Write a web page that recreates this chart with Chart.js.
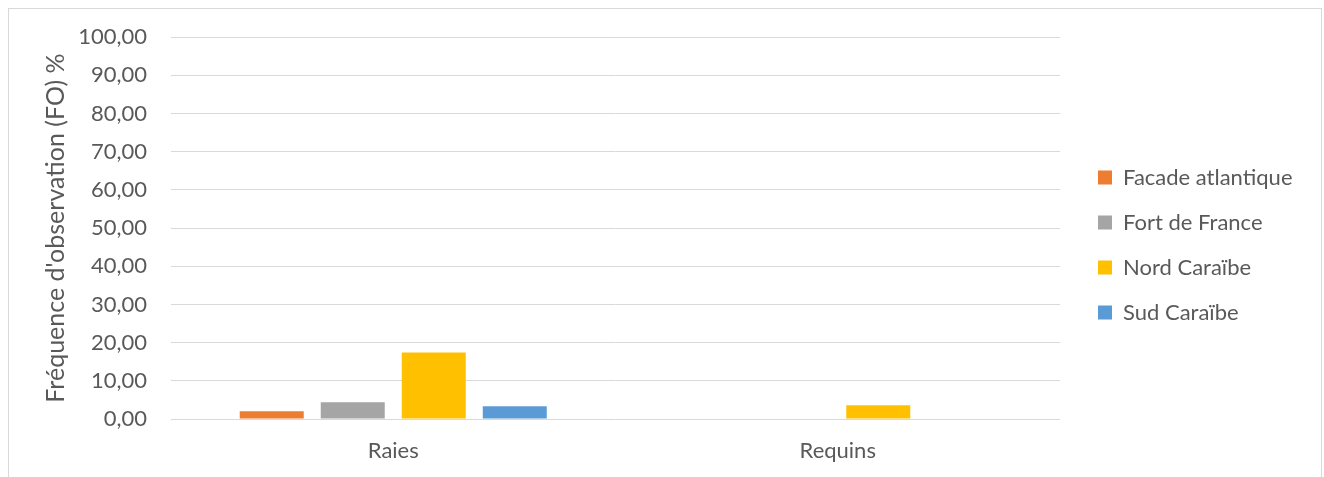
<!DOCTYPE html>
<html>
<head>
<meta charset="utf-8">
<script src="https://cdn.jsdelivr.net/npm/chart.js@4.4.1/dist/chart.umd.min.js"></script>
<style>
html,body{margin:0;padding:0;background:#fff;overflow:hidden;}
#frame{position:absolute;left:8px;top:8px;width:1314px;height:520px;border:1px solid #d9d9d9;box-sizing:border-box;}
#c{position:absolute;left:0;top:0;}
</style>
</head>
<body>
<div id="frame"></div>
<canvas id="c" width="1324" height="477"></canvas>
<script>
// categories, series, ticks
const categories=['Raies','Requins'];
const seriesNames=['Facade atlantique','Fort de France','Nord Caraïbe','Sud Caraïbe'];
const facade=[2.0,0];
const fortDeFrance=[4.4,0];
const nordCaraibe=[17.4,3.6];
const sudCaraibe=[3.35,0];
const yTickLabels=['0,00','10,00','20,00','30,00','40,00','50,00','60,00','70,00','80,00','90,00','100,00'];
const colors=['#ED7D31','#A5A5A5','#FFC000','#5B9BD5'];

const FONT='Lato';
const TXT='#595959';
const AREA_RIGHT=1060, LEGEND_X=1098, LEGEND_DY=-12;

// move legend to the right spot once the layout is known
const legendShift={id:'legendShift',afterLayout(chart){
  const lg=chart.legend; if(!lg) return;
  const pad=lg.options.labels.padding, dx=LEGEND_X-(lg.left+pad);
  lg.left+=dx; lg.right+=dx;
  lg.top+=LEGEND_DY; lg.bottom+=LEGEND_DY;
}};

const values=[facade,fortDeFrance,nordCaraibe,sudCaraibe];
const chart=new Chart(document.getElementById('c'),{
  type:'bar',
  data:{labels:categories,datasets:seriesNames.map((n,i)=>({label:n,data:values[i],backgroundColor:colors[i],borderWidth:0,categoryPercentage:0.729,barPercentage:0.79}))},
  options:{responsive:false,animation:false,devicePixelRatio:1,
    layout:{padding:{left:41,top:37,right:40,bottom:0}},
    plugins:{tooltip:{enabled:false},
      legend:{position:'right',labels:{boxWidth:14,boxHeight:14,padding:23,color:TXT,font:{family:FONT,size:22}}}},
    scales:{
      x:{grid:{display:false},border:{display:false},
         ticks:{color:TXT,padding:11,font:{family:FONT,size:22}},
         afterFit(s){s.height=58;}},
      y:{min:0,max:100,
         grid:{color:'#d9d9d9',drawTicks:false},border:{display:false},
         ticks:{stepSize:10,padding:24,color:TXT,font:{family:FONT,size:22},callback:(v,i)=>yTickLabels[i]},
         title:{display:true,text:"Fréquence d'observation (FO) %",color:TXT,font:{family:FONT,size:25},padding:0},
         afterFit(s){s.width=130;}}
    }},
  plugins:[legendShift]
});
// make the plot area end where the reference's does
chart.options.layout.padding.right=1324-AREA_RIGHT-chart.legend.width;
chart.update();
</script>
</body>
</html>
